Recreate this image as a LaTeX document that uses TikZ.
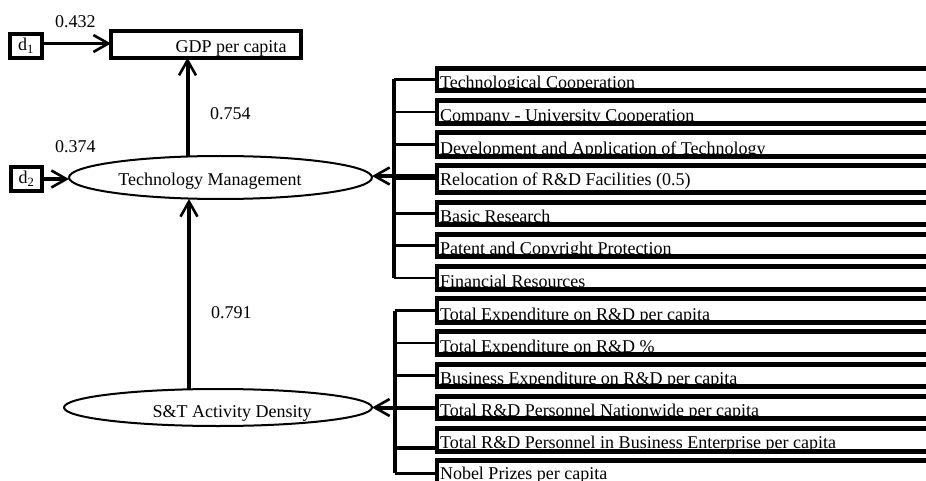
\documentclass[tikz,border=0pt]{standalone}
\usepackage{fontspec}
\setmainfont{Liberation Serif}
\usetikzlibrary{arrows.meta,shapes.geometric,calc}
\begin{document}
\begin{tikzpicture}[x=1pt,y=-1pt,
  every node/.style={font=\fontsize{18}{20}\selectfont, inner sep=0pt, outer sep=0pt},
  ibox/.style={draw, rectangle, line width=4.5pt, minimum width=540pt, anchor=north west},
  ilab/.style={anchor=base west},
  lat/.style={draw, ellipse, line width=2pt},
  dbox/.style={draw, rectangle, line width=4.3pt, minimum width=31.6pt, minimum height=23.7pt},
  branch/.style={line width=2.6pt},
  trunk/.style={line width=4.2pt},
  arr/.style={line width=4pt, -{Straight Barb[length=15pt,width=17pt,line width=2.6pt]}},
  coef/.style={anchor=base west}]
\useasboundingbox (0,0) rectangle (926,481);
\clip (0,0) rectangle (926,481);

% indicator labels (drawn first, the borders lie over them)
\node[ilab] (l1) at (440,88.5) {Technological Cooperation};
\node[ilab] (l2) at (440,121.5) {Company - University Cooperation};
\node[ilab] (l3) at (440,154.5) {Development and Application of Technology};
\node[ilab] (l4) at (440,186) {Relocation of R\&D Facilities (0.5)};
\node[ilab] (l5) at (440,222.5) {Basic Research};
\node[ilab] (l6) at (440,254.5) {Patent and Copyright Protection};
\node[ilab] (l7) at (440,287) {Financial Resources};
\node[ilab] (l8) at (440,320.5) {Total Expenditure on R\&D per capita};
\node[ilab] (l9) at (440,352.5) {Total Expenditure on R\&D \%};
\node[ilab] (l10) at (440,384.5) {Business Expenditure on R\&D per capita};
\node[ilab] (l11) at (440,416.5) {Total R\&D Personnel Nationwide per capita};
\node[ilab] (l12) at (440,448) {Total R\&D Personnel in Business Enterprise per capita};
\node[ilab] (l13) at (440,479) {Nobel Prizes per capita};

% indicator boxes
\node[ibox, minimum height=22pt] (b1) at (437,68.5) {};
\node[ibox, minimum height=23pt] (b2) at (437,100.5) {};
\node[ibox, minimum height=24pt] (b3) at (437,132.5) {};
\node[ibox, minimum height=27pt] (b4) at (437,165.5) {};
\node[ibox, minimum height=22pt] (b5) at (437,202.5) {};
\node[ibox, minimum height=22pt] (b6) at (437,234.5) {};
\node[ibox, minimum height=23pt] (b7) at (437,266.5) {};
\node[ibox, minimum height=24pt] (b8) at (437,298.5) {};
\node[ibox, minimum height=23pt] (b9) at (437,331.5) {};
\node[ibox, minimum height=22pt] (b10) at (437,364.5) {};
\node[ibox, minimum height=22pt] (b11) at (437,396.5) {};
\node[ibox, minimum height=23pt] (b12) at (437,428.5) {};
\node[ibox, minimum height=25.5pt] (b13) at (437,460.5) {};

% latent variables
\node[lat, minimum width=303pt, minimum height=43pt] (tm) at (220.5,177.5) {};
\node[anchor=base] (tmt) at (210,185.7) {Technology Management};
\node[lat, minimum width=308pt, minimum height=37pt] (st) at (218,407.5) {};
\node[anchor=base] (stt) at (232,417) {S\&T Activity Density};

% GDP and disturbances
\node[draw, line width=4.3pt, minimum width=190pt, minimum height=26.5pt] (gdp) at (206,44.5) {};
\node[anchor=base] (gdpt) at (231,52.3) {GDP per capita};
\node[dbox] (d1) at (26,46) {d\textsubscript{1}};
\node[dbox] (d2) at (26.5,179) {d\textsubscript{2}};

% trees
\coordinate (tt) at (394,0);
\coordinate (ts) at (395,0);
\draw[trunk] (tt |- b1.west) -- (tt |- b7.west);
\foreach \i in {1,...,7} {\draw[branch] (tt |- b\i.west) -- (b\i.west);}
\draw[trunk] (ts |- b8.west) -- (ts |- b13.west);
\foreach \i in {8,9,10,11,13} {\draw[branch] (ts |- b\i.west) -- (b\i.west);}
\draw[trunk] (ts |- 0,448) -- ([yshift=-8pt]b12.west);
\draw[arr] ([yshift=3pt]b4.west) -- ([yshift=3pt]b4.west -| tm.east);
\draw[arr] (b11.west) -- (st.east);

% structural arrows
\coordinate (vx) at (187.5,0);
\coordinate (vy) at (189,0);
\draw[arr] (tm.north -| vx) -- (gdp.south -| vx);
\draw[arr] (st.north -| vy) -- (tm.south -| vy);
\draw[arr, line width=3.4pt] ([yshift=2.5pt]d1.east) -- ([yshift=2.5pt]d1.east -| gdp.west);
\draw[arr, line width=3.4pt] (d2.east) -- (d2.east -| tm.west);

% coefficients
\node[coef] (c1) at (55,28) {0.432};
\node[coef] (c2) at (55,153) {0.374};
\node[coef] (c3) at (210,120) {0.754};
\node[coef] (c4) at (211,318) {0.791};
\end{tikzpicture}
\end{document}
